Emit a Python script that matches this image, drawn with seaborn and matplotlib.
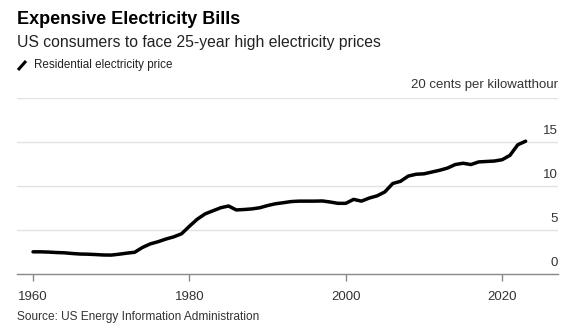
import matplotlib
matplotlib.use("Agg")
import matplotlib.pyplot as plt
import seaborn as sns
import pandas as pd
from matplotlib.lines import Line2D
from matplotlib import font_manager

years = list(range(1960, 2024))
price = [2.55, 2.55, 2.52, 2.47, 2.44, 2.36, 2.30, 2.28, 2.24, 2.19, 2.18, 2.28, 2.40, 2.50, 3.05, 3.45, 3.70, 4.00, 4.25, 4.60,
         5.45, 6.25, 6.85, 7.20, 7.55, 7.75, 7.30, 7.35, 7.42, 7.55, 7.80, 8.00, 8.12, 8.25, 8.30, 8.30, 8.30, 8.32, 8.20, 8.05,
         8.05, 8.50, 8.30, 8.65, 8.90, 9.35, 10.30, 10.55, 11.15, 11.35, 11.40, 11.60, 11.80, 12.05, 12.45, 12.60, 12.45, 12.75,
         12.80, 12.85, 13.00, 13.50, 14.70, 15.10]
series_label = "Residential electricity price"
y_ticks = [0, 5, 10, 15]
x_ticks = [1960, 1980, 2000, 2020]

df = pd.DataFrame({"year": years, "price": price})

sns.set_style("white")
plt.rcParams["font.family"] = ["Liberation Sans", "DejaVu Sans"]

names = {f.name for f in font_manager.fontManager.ttflist}
if "Liberation Sans Narrow" in names:
    legend_family, legend_size = ["Liberation Sans Narrow"], 9.4
else:
    legend_family, legend_size = ["Liberation Sans"], 8.4

fig = plt.figure(figsize=(5.8, 3.34), dpi=100)
ax = fig.add_axes([17/580, 1 - 274.3/334, (557.7 - 17)/580, (274.3 - 98)/334])

sns.lineplot(data=df, x="year", y="price", ax=ax, color="black", linewidth=2.5)

ax.set_xlim(1957.95, 2027.1)
ax.set_ylim(0, 20)

for v in y_ticks + [20]:
    if v != 0:
        ax.axhline(v, color="#e2e2e2", linewidth=1, zorder=0)
for v in y_ticks:
    ax.text(1, v + 1.25, str(v), transform=ax.get_yaxis_transform(), ha="right", va="center",
            fontsize=9.5, color="#333333")
ax.text(1, 20 + 1.45, "20 cents per kilowatthour", transform=ax.get_yaxis_transform(),
        ha="right", va="center", fontsize=9.5, color="#333333")

ax.set_yticks([])
ax.set_xticks(x_ticks)
ax.set_xticklabels([str(x) for x in x_ticks], fontsize=9.5, color="#333333")
ax.tick_params(axis="x", length=5, width=1, color="#888888", direction="out", pad=7, bottom=True)
for s in ["top", "left", "right"]:
    ax.spines[s].set_visible(False)
ax.spines["bottom"].set_color("#888888")
ax.spines["bottom"].set_linewidth(1)
ax.set_xlabel("")
ax.set_ylabel("")
ax.grid(False)

fig.text(17/580, 1 - 20/334, "Expensive Electricity Bills", fontsize=13, fontweight="bold",
         color="black", va="center", ha="left")
fig.text(17/580, 1 - 43/334, "US consumers to face 25-year high electricity prices", fontsize=11.3,
         color="#222222", va="center", ha="left")
fig.add_artist(Line2D([18/580, 26/580], [1 - 70/334, 1 - 61/334], color="black", linewidth=2.2,
                      transform=fig.transFigure, solid_capstyle="butt"))
fig.text(34/580, 1 - 65/334, series_label, fontsize=legend_size, family=legend_family,
         color="#222222", va="center", ha="left")
fig.text(17/580, 1 - 317/334, "Source: US Energy Information Administration", fontsize=8.6,
         color="#333333", va="center", ha="left")

fig.savefig("out.png", dpi=100)
